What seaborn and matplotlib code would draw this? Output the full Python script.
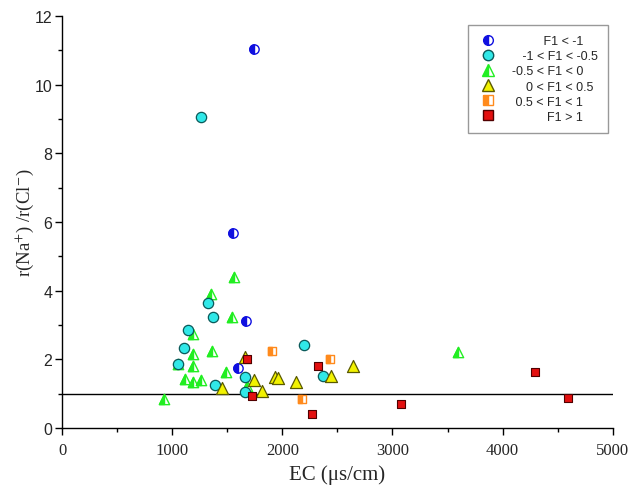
import matplotlib
matplotlib.use("Agg")
import matplotlib.pyplot as plt
import seaborn as sns
from matplotlib.markers import MarkerStyle
from matplotlib.lines import Line2D
from matplotlib.ticker import MultipleLocator

# F1 < -1
blue_x = [1740, 1550, 1670, 1600]
blue_y = [11.05, 5.68, 3.12, 1.74]
# -1 < F1 < -0.5
cyan_x = [1260, 1325, 1375, 1145, 1110, 1055, 1390, 1665, 1658, 2195, 2370]
cyan_y = [9.07, 3.63, 3.22, 2.85, 2.33, 1.86, 1.25, 1.48, 1.04, 2.42, 1.51]
# -0.5 < F1 < 0
green_x = [1560, 1350, 1545, 1186, 1358, 1186, 1192, 1485, 1116, 1186, 1258, 926, 1676, 3597, 1050]
green_y = [4.41, 3.90, 3.24, 2.74, 2.23, 2.14, 1.79, 1.62, 1.43, 1.35, 1.40, 0.83, 1.23, 2.20, 1.86]
# 0 < F1 < 0.5
yellow_x = [1450, 1740, 1820, 1935, 1965, 2120, 2440, 2640, 1660]
yellow_y = [1.17, 1.40, 1.08, 1.48, 1.46, 1.34, 1.51, 1.80, 2.06]
# 0.5 < F1 < 1
orange_x = [1903, 2432, 2181]
orange_y = [2.25, 2.01, 0.84]
# F1 > 1
red_x = [1676, 2326, 1721, 2266, 3076, 4292, 4595]
red_y = [2.01, 1.81, 0.94, 0.41, 0.70, 1.62, 0.87]

labels = ["F1 < -1", "-1 < F1 < -0.5", "-0.5 < F1 < 0",
          "0 < F1 < 0.5", "0.5 < F1 < 1", "F1 > 1"]
# leading spaces mimic the centred legend text of the original
label_pad = [9, 3, 0, 4, 1, 10]

BLUE = "#1010e0"
CYAN = "#30e8e8"
GREEN = "#22ee22"
YELLOW = "#f2f200"
ORANGE = "#ff8a1c"
RED = "#e31010"

sns.set_style("ticks")
plt.rcParams["font.family"] = ["Liberation Sans", "DejaVu Sans"]
plt.rcParams["mathtext.fontset"] = "stix"

fig = plt.figure(figsize=(6.33, 4.89), dpi=100)
ax = fig.add_axes([0.098, 0.123, 0.870, 0.842])


def half_filled(x, y, marker, color, size):
    # white full marker with coloured outline, then the filled left half on top
    sns.scatterplot(x=x, y=y, ax=ax, marker=marker, s=size, color="white",
                    edgecolor=color, linewidth=1.0, zorder=3)
    sns.scatterplot(x=x, y=y, ax=ax, marker=MarkerStyle(marker, fillstyle="left"),
                    s=size, color=color, edgecolor=color, linewidth=1.0, zorder=3)


half_filled(green_x, green_y, "^", GREEN, 55)
half_filled(blue_x, blue_y, "o", BLUE, 45)
sns.scatterplot(x=cyan_x, y=cyan_y, ax=ax, marker="o", s=55, color=CYAN,
                edgecolor="#0a5a5a", linewidth=0.9, zorder=3)
sns.scatterplot(x=yellow_x, y=yellow_y, ax=ax, marker="^", s=75, color=YELLOW,
                edgecolor="#5a5a00", linewidth=0.9, zorder=3)
half_filled(orange_x, orange_y, "s", ORANGE, 38)
sns.scatterplot(x=red_x, y=red_y, ax=ax, marker="s", s=40, color=RED,
                edgecolor="#500000", linewidth=0.8, zorder=3)

ax.axhline(1, color="black", lw=1.0, zorder=2)

ax.set_xlim(0, 5000)
ax.set_ylim(0, 12)
ax.xaxis.set_major_locator(MultipleLocator(1000))
ax.xaxis.set_minor_locator(MultipleLocator(500))
ax.yaxis.set_major_locator(MultipleLocator(2))
ax.yaxis.set_minor_locator(MultipleLocator(1))
ax.tick_params(which="major", length=5, width=1, color="black", direction="out")
ax.tick_params(which="minor", length=3, width=1, color="black", direction="out")
ax.tick_params(axis="y", labelsize=11.5, pad=2)
ax.tick_params(axis="x", labelsize=12, pad=5)
for t in ax.get_xticklabels():
    t.set_family("Liberation Serif")
sns.despine(ax=ax)
for sp in ["left", "bottom"]:
    ax.spines[sp].set_color("black")
    ax.spines[sp].set_linewidth(1.0)

ax.set_xlabel("EC (\u03bcs/cm)", family="Liberation Serif", fontsize=15, labelpad=5)
ax.set_ylabel("r(Na$^{+}$) /r(Cl$^{-}$)", family="Liberation Serif", fontsize=13.5, labelpad=-1)

handles = [
    Line2D([], [], ls="", marker="o", markersize=7, fillstyle="left",
           markerfacecolor=BLUE, markerfacecoloralt="white", markeredgecolor=BLUE),
    Line2D([], [], ls="", marker="o", markersize=7.5, markerfacecolor=CYAN,
           markeredgecolor="#0a5a5a"),
    Line2D([], [], ls="", marker="^", markersize=8, fillstyle="left",
           markerfacecolor=GREEN, markerfacecoloralt="white", markeredgecolor=GREEN),
    Line2D([], [], ls="", marker="^", markersize=8.5, markerfacecolor=YELLOW,
           markeredgecolor="#5a5a00"),
    Line2D([], [], ls="", marker="s", markersize=6.5, fillstyle="left",
           markerfacecolor=ORANGE, markerfacecoloralt="white", markeredgecolor=ORANGE),
    Line2D([], [], ls="", marker="s", markersize=6.5, markerfacecolor=RED,
           markeredgecolor="#500000"),
]
leg_labels = [" " * p + lab for p, lab in zip(label_pad, labels)]
leg = ax.legend(handles, leg_labels, loc="upper right", bbox_to_anchor=(0.991, 0.978),
                fontsize=9, frameon=True, fancybox=False, handletextpad=1.2,
                borderpad=0.8, labelspacing=0.25, handlelength=1.5, borderaxespad=0)
leg.get_frame().set_edgecolor("#808080")
leg.get_frame().set_linewidth(1.0)

fig.savefig("out.png", dpi=100)
